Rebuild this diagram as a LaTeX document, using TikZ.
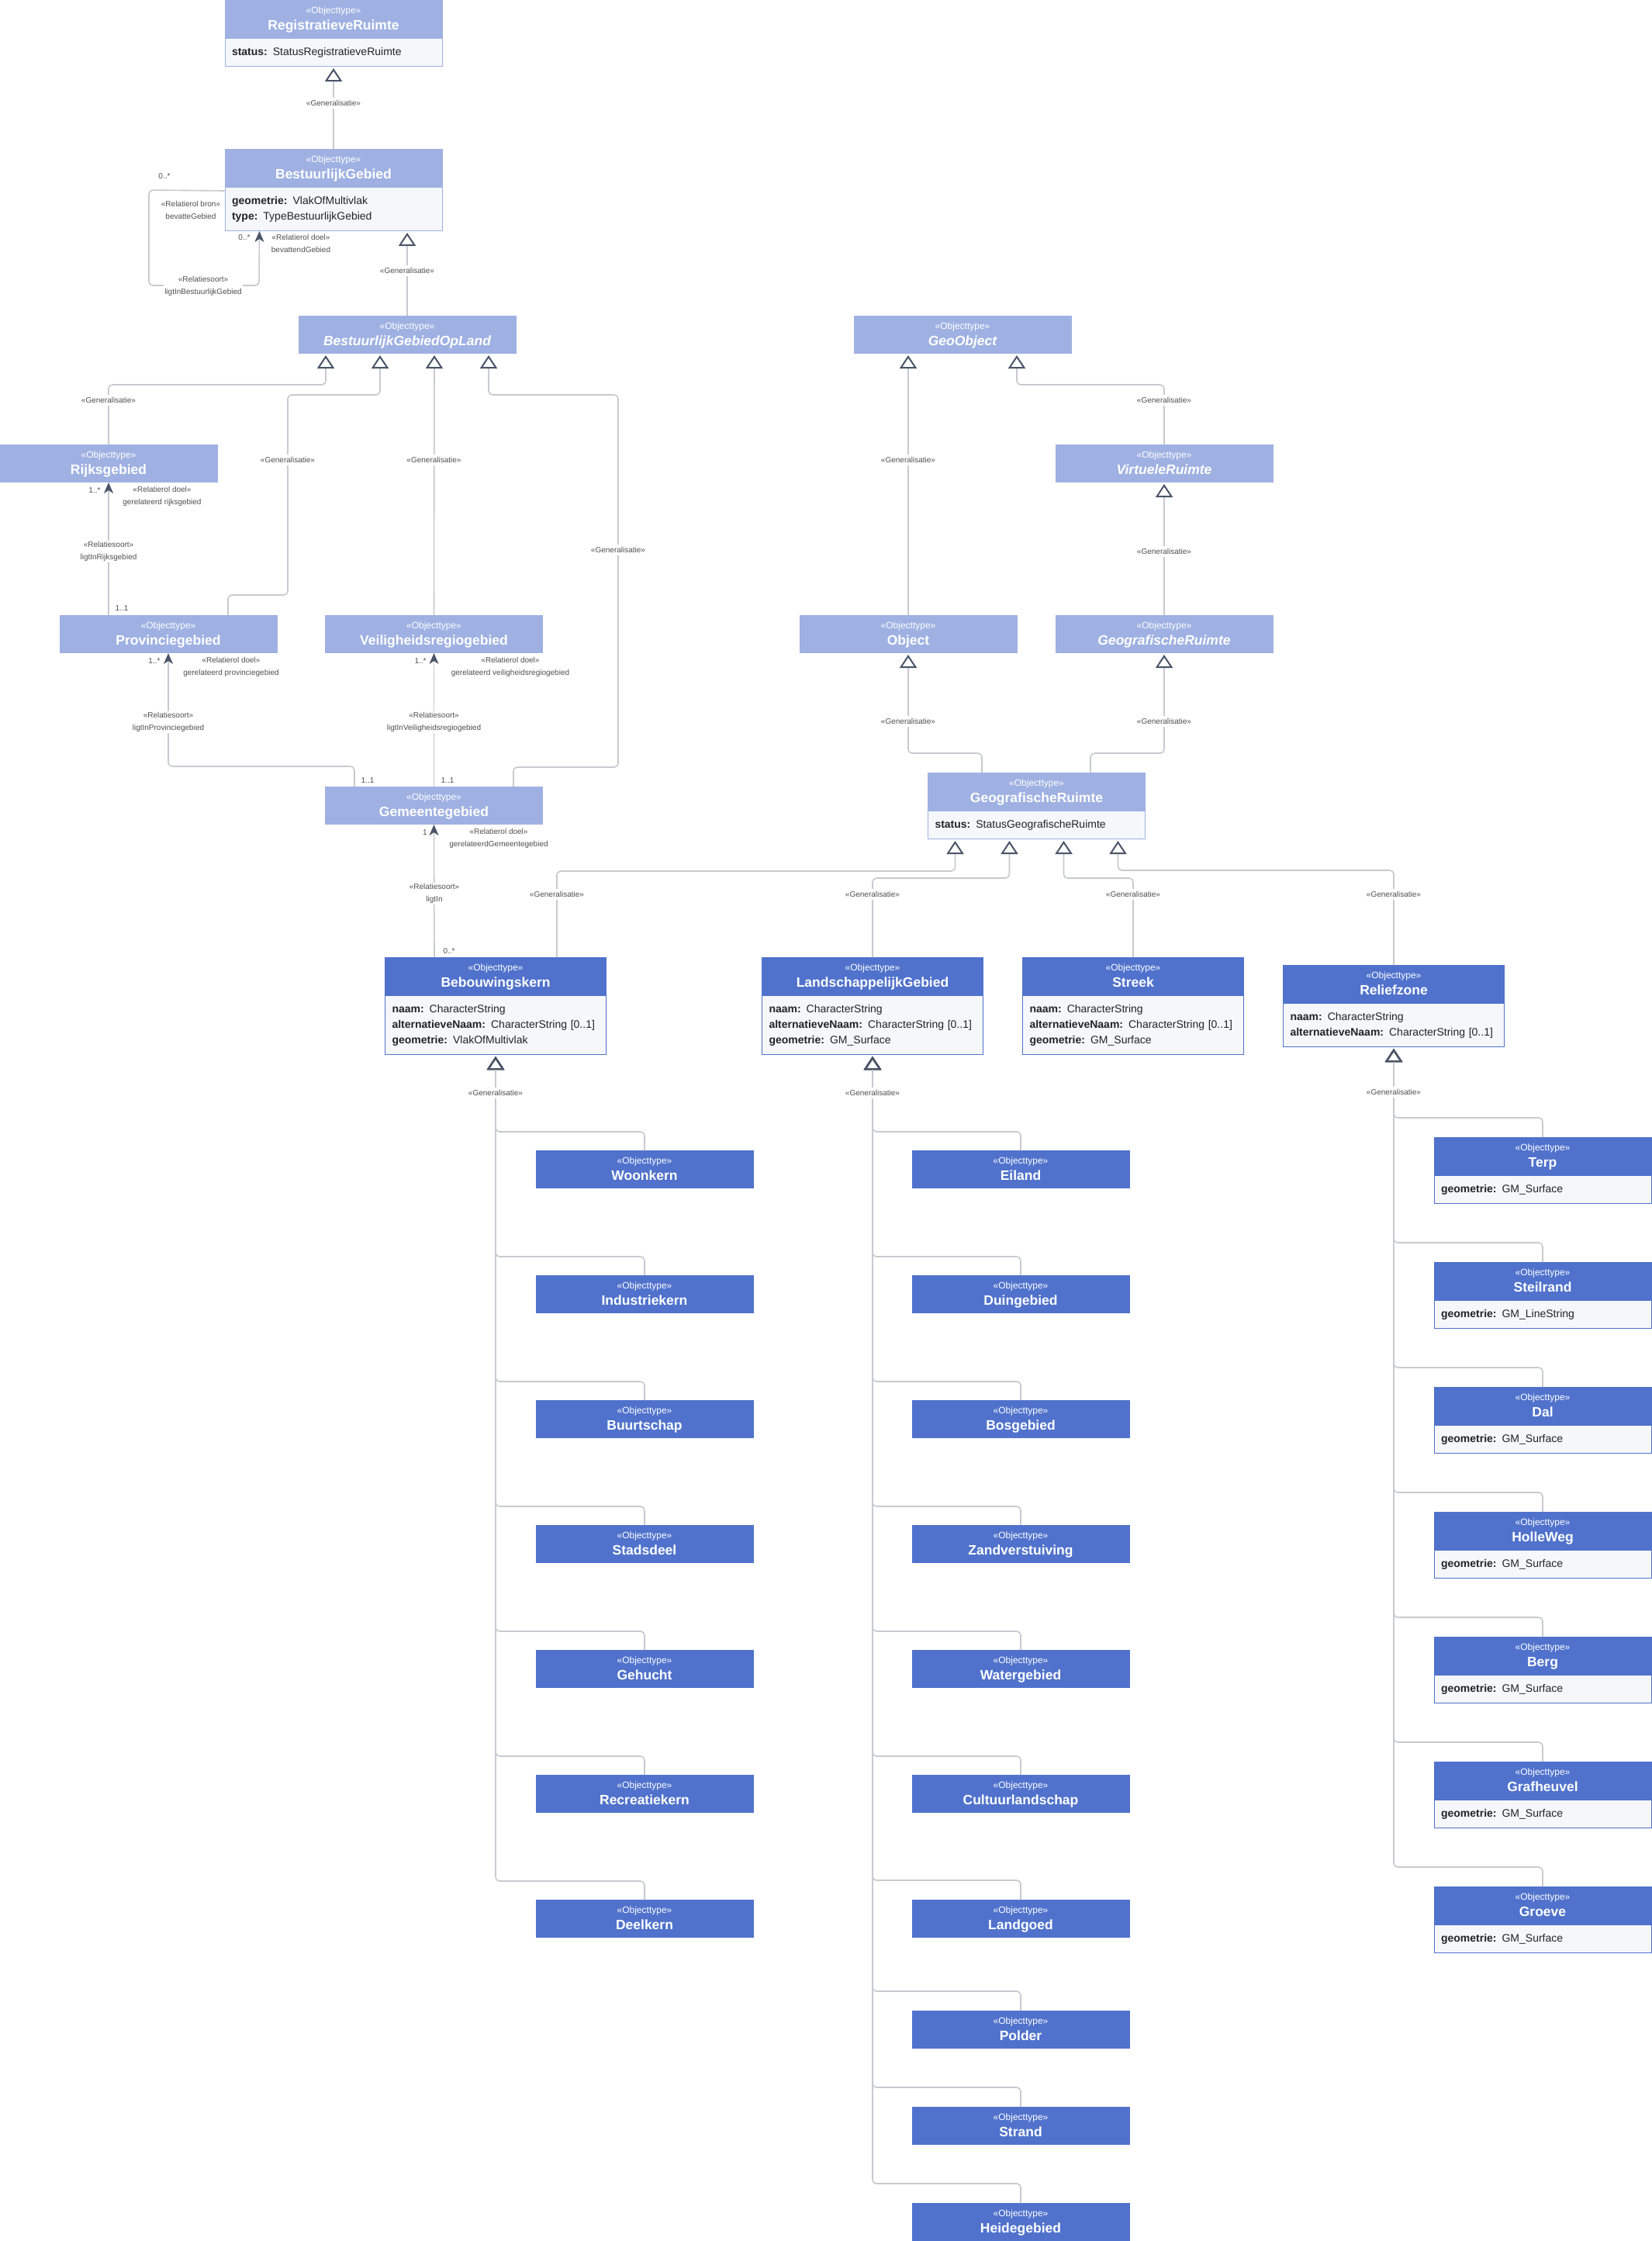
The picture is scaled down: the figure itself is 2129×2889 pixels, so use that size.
\documentclass[tikz,border=0pt]{standalone}
\usepackage{fontspec}
\setmainfont{Liberation Sans}
\usetikzlibrary{arrows.meta,calc}

\definecolor{hdrA}{RGB}{159,177,226}
\definecolor{hdrB}{RGB}{80,114,204}
\definecolor{attrbg}{RGB}{245,247,251}
\definecolor{linecol}{RGB}{200,202,207}
\definecolor{tipcol}{RGB}{74,85,104}
\definecolor{lblcol}{RGB}{80,80,80}
\definecolor{txtcol}{RGB}{35,35,35}

\newcommand{\hdr}[1]{\rule[-3pt]{0pt}{20.3pt}«Objecttype»\\\rule[-9.7pt]{0pt}{24.7pt}{\fontsize{17.5}{21}\selectfont\bfseries #1}}
\newcommand{\hdri}[1]{\hdr{\itshape #1}}
\newcommand{\attr}[2]{\rule[-6pt]{0pt}{20pt}\textbf{#1:} #2}

\begin{document}
\begin{tikzpicture}[x=1pt,y=-1pt,
  boxA/.style={rectangle, draw=hdrA, fill=hdrA, line width=1pt, text=white,
    font=\fontsize{12}{21}\selectfont, minimum width=280pt, minimum height=48pt,
    inner sep=0pt, align=center, anchor=north},
  boxB/.style={boxA, draw=hdrB, fill=hdrB},
  wide/.style={minimum width=285pt},
  attrA/.style={rectangle, draw=hdrA, fill=attrbg, line width=1pt, text=txtcol,
    font=\fontsize{14}{20}\selectfont, text width=262pt, inner xsep=9pt,
    inner ysep=8pt, align=left, anchor=north},
  attrB/.style={attrA, draw=hdrB},
  attrwide/.style={text width=267pt},
  gen/.style={draw=linecol, line width=1.6pt, rounded corners=5pt, shorten >=2pt,
    -{Triangle[open, length=17pt, width=22pt, line width=2pt, color=tipcol]}},
  assoc/.style={draw=linecol, line width=1.6pt, rounded corners=5pt,
    -{Stealth[length=14pt, width=12pt, inset=4pt, color=tipcol]}},
  genlbl/.style={fill=white, text=lblcol, font=\fontsize{10}{16}\selectfont,
    inner xsep=2pt, inner ysep=3pt},
  rellbl/.style={text=lblcol, font=\fontsize{10}{16}\selectfont, align=center, inner sep=1pt},
  mult/.style={text=lblcol, font=\fontsize{10}{12}\selectfont, inner sep=0pt}]
  \useasboundingbox[fill=white] (0,0) rectangle (2129,2889);

  % bovenste deel
  \node[boxA] (rr) at (430,0) {\hdr{RegistratieveRuimte}};
  \node[attrA] (rr-a) at (rr.south) {\attr{status}{StatusRegistratieveRuimte}};
  \node[boxA] (bg) at (430,192) {\hdr{BestuurlijkGebied}};
  \node[attrA] (bg-a) at (bg.south) {\attr{geometrie}{VlakOfMultivlak}\\\attr{type}{TypeBestuurlijkGebied}};
  \node[boxA] (bgol) at (525,407) {\hdri{BestuurlijkGebiedOpLand}};
  \node[boxA] (geoobj) at (1241,407) {\hdri{GeoObject}};
  \node[boxA] (rijks) at (140,573) {\hdr{Rijksgebied}};
  \node[boxA] (virt) at (1501,573) {\hdri{VirtueleRuimte}};
  \node[boxA] (prov) at (217,793) {\hdr{Provinciegebied}};
  \node[boxA] (veil) at (559.5,793) {\hdr{Veiligheidsregiogebied}};
  \node[boxA] (obj) at (1171,793) {\hdr{Object}};
  \node[boxA] (geoa) at (1501,793) {\hdri{GeografischeRuimte}};
  \node[boxA] (gem) at (559.5,1014) {\hdr{Gemeentegebied}};
  \node[boxA] (geoc) at (1336.5,996) {\hdr{GeografischeRuimte}};
  \node[attrA] (geoc-a) at (geoc.south) {\attr{status}{StatusGeografischeRuimte}};

  % middelste rij
  \node[boxB,wide] (bebouw) at (639,1234) {\hdr{Bebouwingskern}};
  \node[attrB,attrwide] (bebouw-a) at (bebouw.south) {\attr{naam}{CharacterString}\\\attr{alternatieveNaam}{CharacterString [0..1]}\\\attr{geometrie}{VlakOfMultivlak}};
  \node[boxB,wide] (landsch) at (1125,1234) {\hdr{LandschappelijkGebied}};
  \node[attrB,attrwide] (landsch-a) at (landsch.south) {\attr{naam}{CharacterString}\\\attr{alternatieveNaam}{CharacterString [0..1]}\\\attr{geometrie}{GM\_Surface}};
  \node[boxB,wide] (streek) at (1461,1234) {\hdr{Streek}};
  \node[attrB,attrwide] (streek-a) at (streek.south) {\attr{naam}{CharacterString}\\\attr{alternatieveNaam}{CharacterString [0..1]}\\\attr{geometrie}{GM\_Surface}};
  \node[boxB,wide] (relief) at (1797,1244) {\hdr{Reliefzone}};
  \node[attrB,attrwide] (relief-a) at (relief.south) {\attr{naam}{CharacterString}\\\attr{alternatieveNaam}{CharacterString [0..1]}};

  % kernen
  \node[boxB] (woonkern) at (831,1483) {\hdr{Woonkern}};
  \node[boxB] (industriekern) at (831,1644) {\hdr{Industriekern}};
  \node[boxB] (buurtschap) at (831,1805) {\hdr{Buurtschap}};
  \node[boxB] (stadsdeel) at (831,1966) {\hdr{Stadsdeel}};
  \node[boxB] (gehucht) at (831,2127) {\hdr{Gehucht}};
  \node[boxB] (recreatiekern) at (831,2288) {\hdr{Recreatiekern}};
  \node[boxB] (deelkern) at (831,2449) {\hdr{Deelkern}};

  % landschappen
  \node[boxB] (eiland) at (1316,1483) {\hdr{Eiland}};
  \node[boxB] (duingebied) at (1316,1644) {\hdr{Duingebied}};
  \node[boxB] (bosgebied) at (1316,1805) {\hdr{Bosgebied}};
  \node[boxB] (zandverstuiving) at (1316,1966) {\hdr{Zandverstuiving}};
  \node[boxB] (watergebied) at (1316,2127) {\hdr{Watergebied}};
  \node[boxB] (cultuurlandschap) at (1316,2288) {\hdr{Cultuurlandschap}};
  \node[boxB] (landgoed) at (1316,2449) {\hdr{Landgoed}};
  \node[boxB] (polder) at (1316,2592) {\hdr{Polder}};
  \node[boxB] (strand) at (1316,2716) {\hdr{Strand}};
  \node[boxB] (heidegebied) at (1316,2840) {\hdr{Heidegebied}};

  % reliefs
  \node[boxB] (terp) at (1989,1466) {\hdr{Terp}};
  \node[attrB] (terp-a) at (terp.south) {\attr{geometrie}{GM\_Surface}};
  \node[boxB] (steilrand) at (1989,1627) {\hdr{Steilrand}};
  \node[attrB] (steilrand-a) at (steilrand.south) {\attr{geometrie}{GM\_LineString}};
  \node[boxB] (dal) at (1989,1788) {\hdr{Dal}};
  \node[attrB] (dal-a) at (dal.south) {\attr{geometrie}{GM\_Surface}};
  \node[boxB] (holleweg) at (1989,1949) {\hdr{HolleWeg}};
  \node[attrB] (holleweg-a) at (holleweg.south) {\attr{geometrie}{GM\_Surface}};
  \node[boxB] (berg) at (1989,2110) {\hdr{Berg}};
  \node[attrB] (berg-a) at (berg.south) {\attr{geometrie}{GM\_Surface}};
  \node[boxB] (grafheuvel) at (1989,2271) {\hdr{Grafheuvel}};
  \node[attrB] (grafheuvel-a) at (grafheuvel.south) {\attr{geometrie}{GM\_Surface}};
  \node[boxB] (groeve) at (1989,2432) {\hdr{Groeve}};
  \node[attrB] (groeve-a) at (groeve.south) {\attr{geometrie}{GM\_Surface}};

  % generalisaties
  \draw[gen] (bg.north) -- (rr-a.south);
  \draw[gen] (bgol.north) -- ($(bg-a.south)+(95,0)$);
  \draw[gen] (rijks.north) |- (420,496) -- ($(bgol.south)+(-105,0)$);
  \draw[gen] ($(prov.north)+(77,0)$) |- (371,767) |- (490,509) -- ($(bgol.south)+(-35,0)$);
  \draw[gen] (veil.north) -- ($(bgol.south)+(35,0)$);
  \draw[gen] ($(gem.north)+(102.5,0)$) |- (797,989) |- (630,509) -- ($(bgol.south)+(105,0)$);
  \draw[gen] (obj.north) -- ($(geoobj.south)+(-70,0)$);
  \draw[gen] (virt.north) |- (1311,496) -- ($(geoobj.south)+(70,0)$);
  \draw[gen] (geoa.north) -- (virt.south);
  \draw[gen] ($(geoc.north)+(-70.5,0)$) |- (1171,971) -- (obj.south);
  \draw[gen] ($(geoc.north)+(69.5,0)$) |- (1501,971) -- (geoa.south);
  \draw[gen] ($(bebouw.north)+(79,0)$) |- (1231.5,1123) -- ($(geoc-a.south)+(-105,0)$);
  \draw[gen] (landsch.north) |- (1301.5,1132) -- ($(geoc-a.south)+(-35,0)$);
  \draw[gen] (streek.north) |- (1371.5,1132) -- ($(geoc-a.south)+(35,0)$);
  \draw[gen] (relief.north) |- (1441.5,1122) -- ($(geoc-a.south)+(105,0)$);

  \draw[gen] (woonkern.north) -- ++(0,-24) -| (bebouw-a.south);
  \draw[gen] (industriekern.north) -- ++(0,-24) -| (bebouw-a.south);
  \draw[gen] (buurtschap.north) -- ++(0,-24) -| (bebouw-a.south);
  \draw[gen] (stadsdeel.north) -- ++(0,-24) -| (bebouw-a.south);
  \draw[gen] (gehucht.north) -- ++(0,-24) -| (bebouw-a.south);
  \draw[gen] (recreatiekern.north) -- ++(0,-24) -| (bebouw-a.south);
  \draw[gen] (deelkern.north) -- ++(0,-24) -| (bebouw-a.south);

  \draw[gen] (eiland.north) -- ++(0,-24) -| (landsch-a.south);
  \draw[gen] (duingebied.north) -- ++(0,-24) -| (landsch-a.south);
  \draw[gen] (bosgebied.north) -- ++(0,-24) -| (landsch-a.south);
  \draw[gen] (zandverstuiving.north) -- ++(0,-24) -| (landsch-a.south);
  \draw[gen] (watergebied.north) -- ++(0,-24) -| (landsch-a.south);
  \draw[gen] (cultuurlandschap.north) -- ++(0,-24) -| (landsch-a.south);
  \draw[gen] (landgoed.north) -- ++(0,-25) -| (landsch-a.south);
  \draw[gen] (polder.north) -- ++(0,-25) -| (landsch-a.south);
  \draw[gen] (strand.north) -- ++(0,-25) -| (landsch-a.south);
  \draw[gen] (heidegebied.north) -- ++(0,-25) -| (landsch-a.south);

  \draw[gen] (terp.north) -- ++(0,-25) -| (relief-a.south);
  \draw[gen] (steilrand.north) -- ++(0,-25) -| (relief-a.south);
  \draw[gen] (dal.north) -- ++(0,-25) -| (relief-a.south);
  \draw[gen] (holleweg.north) -- ++(0,-25) -| (relief-a.south);
  \draw[gen] (berg.north) -- ++(0,-25) -| (relief-a.south);
  \draw[gen] (grafheuvel.north) -- ++(0,-25) -| (relief-a.south);
  \draw[gen] (groeve.north) -- ++(0,-25) -| (relief-a.south);

  % relaties
  \draw[assoc] ($(bg-a.north west)+(0,5)$) -- (192,245) |- (334,368) -- ($(bg-a.south)+(-95.5,0)$);
  \draw[assoc] ($(prov.north)+(-77,0)$) -- (rijks.south);
  \draw[assoc] ($(gem.north)+(-102.5,0)$) |- (217,988) -- (prov.south);
  \draw[assoc] (gem.north) -- (veil.south);
  \draw[assoc] ($(bebouw.north)+(-79,0)$) -- (gem.south);

  % labels
  \node[genlbl] (g1) at (430,133) {«Generalisatie»};
  \node[genlbl] (g2) at (525,349) {«Generalisatie»};
  \node[genlbl] (g3) at (140,516) {«Generalisatie»};
  \node[genlbl] (g4) at (371,593) {«Generalisatie»};
  \node[genlbl] (g5) at (559.5,593) {«Generalisatie»};
  \node[genlbl] (g6) at (797,709) {«Generalisatie»};
  \node[genlbl] (g7) at (1171,593) {«Generalisatie»};
  \node[genlbl] (g8) at (1501,516) {«Generalisatie»};
  \node[genlbl] (g9) at (1501,711) {«Generalisatie»};
  \node[genlbl] (g10) at (1171,930) {«Generalisatie»};
  \node[genlbl] (g11) at (1501,930) {«Generalisatie»};
  \node[genlbl] (g12) at (718,1153) {«Generalisatie»};
  \node[genlbl] (g13) at (1125,1153) {«Generalisatie»};
  \node[genlbl] (g14) at (1461,1153) {«Generalisatie»};
  \node[genlbl] (g15) at (1797,1153) {«Generalisatie»};
  \node[genlbl] (g16) at (639,1409) {«Generalisatie»};
  \node[genlbl] (g17) at (1125,1409) {«Generalisatie»};
  \node[genlbl] (g18) at (1797,1408) {«Generalisatie»};

  \node[mult] (m1) at (212,227) {0..*};
  \node[rellbl] (r1) at (246,270.5) {«Relatierol bron»\\bevatteGebied};
  \node[mult] (m2) at (315,306) {0..*};
  \node[rellbl] (r2) at (388,314) {«Relatierol doel»\\bevattendGebied};
  \node[rellbl,fill=white] (s1) at (262,369) {«Relatiesoort»\\ligtInBestuurlijkGebied};

  \node[mult] (m3) at (122,632) {1..*};
  \node[rellbl] (r3) at (209,640) {«Relatierol doel»\\gerelateerd rijksgebied};
  \node[rellbl,fill=white] (s2) at (140,711) {«Relatiesoort»\\ligtInRijksgebied};
  \node[mult] (m4) at (157,784) {1..1};

  \node[mult] (m5) at (199,852) {1..*};
  \node[rellbl] (r4) at (298,860) {«Relatierol doel»\\gerelateerd provinciegebied};
  \node[rellbl,fill=white] (s3) at (217,931) {«Relatiesoort»\\ligtInProvinciegebied};
  \node[mult] (m6) at (474,1006) {1..1};

  \node[mult] (m7) at (542,852) {1..*};
  \node[rellbl] (r5) at (658,860) {«Relatierol doel»\\gerelateerd veiligheidsregiogebied};
  \node[rellbl,fill=white] (s4) at (559.5,931) {«Relatiesoort»\\ligtInVeiligheidsregiogebied};
  \node[mult] (m8) at (577,1006) {1..1};

  \node[mult] (m9) at (548,1073) {1};
  \node[rellbl] (r6) at (643,1081) {«Relatierol doel»\\gerelateerdGemeentegebied};
  \node[rellbl,fill=white] (s5) at (560,1152) {«Relatiesoort»\\ligtIn};
  \node[mult] (m10) at (579,1226) {0..*};
\end{tikzpicture}
\end{document}
